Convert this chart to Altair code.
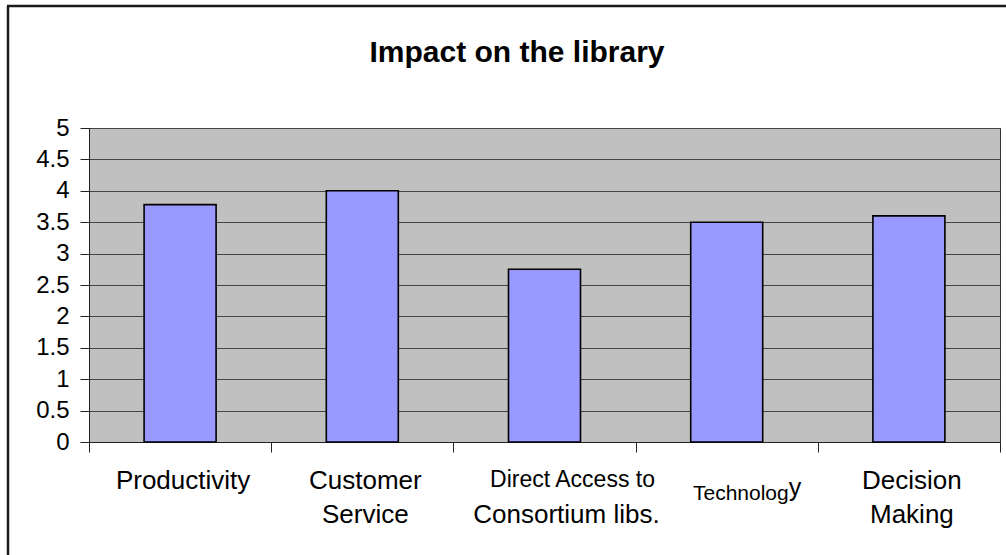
import altair as alt
import pandas as pd

# Survey results: mean rating per impact area (0-5 scale)
categories = [
    "Productivity",
    "Customer Service",
    "Direct Access to Consortium libs.",
    "Technology",
    "Decision Making",
]
values = [3.78, 4.0, 2.75, 3.5, 3.6]

# Category labels as printed under the axis, split over two lines
label_top = ["Productivity", "Customer", "Direct Access to", "Technology", "Decision"]
label_bottom = ["", "Service", "Consortium libs.", "", "Making"]

y_ticks = [0, 0.5, 1, 1.5, 2, 2.5, 3, 3.5, 4, 4.5, 5]

chart_title = "Impact on the library"

FONT = "Liberation Sans"
W, H = 911, 314

df = pd.DataFrame({
    "category": categories,
    "value": values,
    "top": label_top,
    "bottom": label_bottom,
})

x_enc = alt.X(
    "category:N",
    sort=categories,
    scale=alt.Scale(paddingInner=0, paddingOuter=0),
    axis=alt.Axis(
        labels=False, title=None, grid=False, ticks=True, tickBand="extent",
        tickSize=10, tickColor="#222222", domainColor="#222222", domainWidth=1,
    ),
)

bars = alt.Chart().mark_bar(
    size=72, fill="#9999FF", stroke="#000000", strokeWidth=1.6
).encode(
    x=x_enc,
    y=alt.Y(
        "value:Q",
        scale=alt.Scale(domain=[0, 5], nice=False, zero=True),
        axis=alt.Axis(
            values=y_ticks, format="~g", title=None, grid=True,
            gridColor="#444444", gridWidth=1, gridOpacity=1,
            tickSize=9, tickColor="#222222", domainColor="#222222",
            labelFontSize=24, labelFont=FONT, labelColor="#000000",
            labelPadding=11,
        ),
    ),
)

def label_layer(field, test, size, dx, y, text=None, align="center"):
    enc = {"x": alt.X("category:N", sort=categories), "y": alt.value(y)}
    mark = alt.Chart().transform_filter(test)
    if text is not None:
        mark = mark.transform_calculate(shown=text)
        enc["text"] = alt.Text("shown:N")
    else:
        enc["text"] = alt.Text(f"{field}:N")
    return mark.mark_text(
        font=FONT, fontSize=size, color="#000000", baseline="alphabetic",
        align=align, dx=dx,
    ).encode(**enc)

line1 = label_layer("top", "indexof(['Productivity','Customer','Decision'], datum.top) >= 0", 26, 3, 361)
line1_small = label_layer("top", "datum.top == 'Direct Access to'", 23, 28, 359)
line2 = label_layer("bottom", "datum.bottom != '' && datum.bottom != 'Consortium libs.'", 26, 3, 395)
line2_shift = label_layer("bottom", "datum.bottom == 'Consortium libs.'", 26, 22, 395)
tech_head = label_layer(
    "top", "datum.top == 'Technology'", 21, 62, 372,
    text="substring(datum.top, 0, length(datum.top) - 1)", align="right",
)
tech_tail = label_layer(
    "top", "datum.top == 'Technology'", 25, 62, 368,
    text="substring(datum.top, length(datum.top) - 1)", align="left",
)

# Heading and outer frame of the chart box
frame_data = alt.InlineData(values=[{"k": 1}])
heading = alt.Chart(frame_data).mark_text(
    text=chart_title, font=FONT, fontSize=30, fontWeight="bold",
    color="#000000", align="center", baseline="alphabetic",
).encode(x=alt.value(428), y=alt.value(-66))
frame_left = alt.Chart(frame_data).mark_rule(color="#1a1a1a", strokeWidth=2.5).encode(
    x=alt.value(-81), y=alt.value(-122), y2=alt.value(440)
)
frame_top = alt.Chart(frame_data).mark_rule(color="#1a1a1a", strokeWidth=2.5).encode(
    x=alt.value(-82), x2=alt.value(930), y=alt.value(-122)
)

chart = alt.layer(
    bars, line1, line1_small, line2, line2_shift, tech_head, tech_tail,
    heading, frame_left, frame_top, data=df,
).properties(
    width=W,
    height=H,
    autosize=alt.AutoSizeParams(type="none"),
    padding={"left": 89, "top": 128, "right": 6, "bottom": 113},
    background="#ffffff",
).configure_view(
    fill="#C0C0C0", stroke="#333333", strokeWidth=1
)

chart.save("out.html", embed_options={"renderer": "svg", "actions": False})
